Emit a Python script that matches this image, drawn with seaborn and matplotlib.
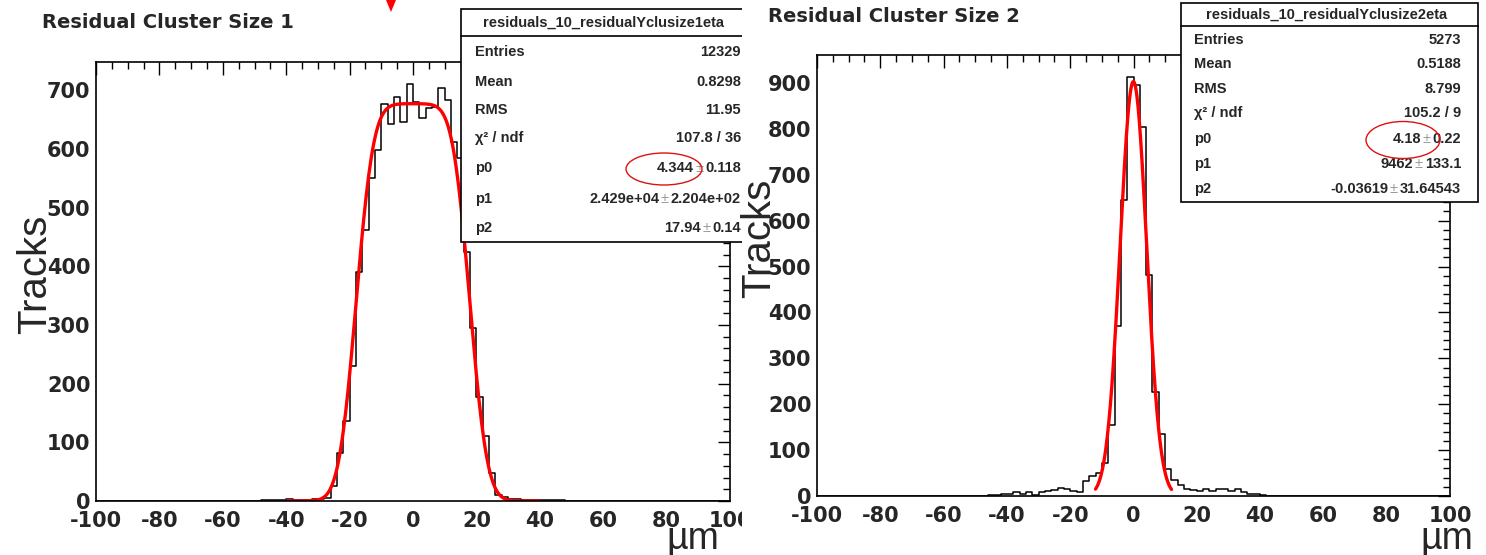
import math
import numpy as np
import pandas as pd
import matplotlib
matplotlib.use("Agg")
import matplotlib.pyplot as plt
import seaborn as sns
from matplotlib.patches import Rectangle, Ellipse, Polygon
from matplotlib.ticker import MultipleLocator

# ---------------------------------------------------------------- data
bin_width = 2
bin_range = (-100, 100)

# cluster size 1: residual histogram (bin centres, entries per 2 um bin)
size1_centers = [-47, -45, -43, -41, -39, -37, -35, -33, -31, -29, -27, -25, -23,
                 -21, -19, -17, -15, -13, -11, -9, -7, -5, -3, -1, 1, 3, 5, 7, 9,
                 11, 13, 15, 17, 19, 21, 23, 25, 27, 29, 31, 33, 35, 37, 39, 41,
                 43, 45, 47]
size1_counts = [1, 1, 2, 2, 3, 2, 1, 2, 3, 4, 5, 25, 82,
                136, 230, 390, 462, 550, 598, 677, 643, 688, 646, 711, 680, 653, 669, 672, 703,
                683, 612, 584, 425, 294, 178, 110, 48, 10, 7, 3, 3,
                2, 1, 2, 1, 1, 1, 1]

# cluster size 2: residual histogram
size2_centers = [-45, -43, -41, -39, -37, -35, -33, -31, -29, -27, -25, -23, -21,
                 -19, -17, -15, -13, -11, -9, -7, -5, -3, -1, 1, 3, 5, 7, 9, 11,
                 13, 15, 17, 19, 21, 23, 25, 27, 29, 31, 33, 35, 37, 39, 41, 43]
size2_counts = [2, 3, 5, 4, 9, 4, 9, 3, 9, 10, 13, 17, 15,
                11, 9, 33, 44, 50, 73, 155, 371, 644, 914, 896, 805, 481, 226, 136, 58,
                34, 24, 16, 14, 11, 16, 11, 16, 16, 11, 15, 8, 4, 4, 2, 1]

# fit results (box (x) gaussian for size 1, gaussian for size 2)
fit1_p0, fit1_p1, fit1_p2 = 4.344, 2.429e4, 17.94
fit1_range = (-40, 40)
fit2_p0, fit2_p1, fit2_p2 = 4.18, 9462.0, -0.03619
fit2_range = (-12, 12)

titles = ["Residual Cluster Size 1", "Residual Cluster Size 2"]
hist_names = ["residuals_10_residualYclusize1eta", "residuals_10_residualYclusize2eta"]
stat_labels = ["Entries", "Mean", "RMS", "\u03c7\u00b2 / ndf", "p0", "p1", "p2"]
# (value, error) pairs; error None for plain entries
stat_values1 = [("12329", None), ("0.8298", None), ("11.95", None), ("107.8 / 36", None),
                ("4.344", "0.118"), ("2.429e+04", "2.204e+02"), ("17.94", "0.14")]
stat_values2 = [("5273", None), ("0.5188", None), ("8.799", None), ("105.2 / 9", None),
                ("4.18", "0.22"), ("9462", "133.1"), ("-0.03619", "31.64543")]
y_label = "Tracks"
x_label = "\u00b5m"

# ---------------------------------------------------------------- style
sns.set_theme(style="white")
plt.rcParams['font.family'] = ['Liberation Sans', 'DejaVu Sans']
plt.rcParams['axes.unicode_minus'] = False

W, H = 1486, 555
fig = plt.figure(figsize=(W / 100, H / 100), dpi=100)
fig.patch.set_facecolor("white")

WIDE_BOLD = dict(family="DejaVu Sans", weight="bold")


def add_axes_px(x0, y0, x1, y1):
    return fig.add_axes([x0 / W, 1 - y1 / H, (x1 - x0) / W, (y1 - y0) / H])


erf = np.vectorize(math.erf)


def box_gauss(x, p0, p1, p2):
    s = math.sqrt(2) * p0
    return p1 / (4 * p2) * (erf((x + p2) / s) - erf((x - p2) / s))


def gauss(x, p0, p1, p2):
    return p1 / (math.sqrt(2 * math.pi) * p0) * np.exp(-0.5 * ((x - p2) / p0) ** 2)


def style_axes(ax, ymax):
    ax.set_xlim(-100, 100)
    ax.set_ylim(0, ymax)
    ax.xaxis.set_major_locator(MultipleLocator(20))
    ax.xaxis.set_minor_locator(MultipleLocator(5))
    ax.yaxis.set_major_locator(MultipleLocator(100))
    ax.yaxis.set_minor_locator(MultipleLocator(20))
    ax.tick_params(which="both", direction="in", top=True, right=True,
                   color="black", width=1.0)
    ax.tick_params(which="major", length=9, labelsize=15)
    ax.tick_params(axis="x", which="major", pad=7)
    ax.tick_params(axis="y", which="major", pad=4)
    ax.tick_params(which="minor", length=5)
    for lab in ax.get_xticklabels() + ax.get_yticklabels():
        lab.set_fontfamily(WIDE_BOLD["family"])
        lab.set_fontweight(WIDE_BOLD["weight"])
    for sp in ax.spines.values():
        sp.set_color("black")
        sp.set_linewidth(1.2)
    ax.set_xlabel("")
    ax.set_ylabel("")
    ax.set_facecolor("white")
    ax.grid(False)


panels = [
    dict(frame=(96, 62, 730, 501), ymax=748, centers=size1_centers, counts=size1_counts,
         fit=lambda x: box_gauss(x, fit1_p0, fit1_p1, fit1_p2), rng=fit1_range),
    dict(frame=(817, 55, 1450, 496), ymax=961, centers=size2_centers, counts=size2_counts,
         fit=lambda x: gauss(x, fit2_p0, fit2_p1, fit2_p2), rng=fit2_range),
]

for p in panels:
    ax = add_axes_px(*p["frame"])
    df = pd.DataFrame({"x": p["centers"], "n": p["counts"]})
    sns.histplot(data=df, x="x", weights="n", binwidth=bin_width, binrange=bin_range,
                 element="step", fill=False, color="black", linewidth=1.1, ax=ax)
    xf = np.linspace(p["rng"][0], p["rng"][1], 201)
    sns.lineplot(x=xf, y=p["fit"](xf), color="#ff0000", linewidth=2.4, ax=ax,
                 sort=False)
    style_axes(ax, p["ymax"])

# ---------------------------------------------------------------- overlay in pixel units
ov = fig.add_axes([0, 0, 1, 1], zorder=5)
ov.set_xlim(0, W)
ov.set_ylim(H, 0)
ov.axis("off")

TXT = dict(fontsize=10.5, fontweight="bold", va="center", zorder=12)


def stat_box(x0, y0, x1, y1, head_y, name, name_x, rows_y, values, lab_x, val_x):
    ov.add_patch(Rectangle((x0, y0), x1 - x0, y1 - y0, facecolor="white",
                           edgecolor="black", linewidth=1.2, zorder=10))
    ov.plot([x0, x1], [head_y, head_y], color="black", linewidth=1.2, zorder=11)
    ov.text(name_x, (y0 + head_y) / 2, name, ha="center", **TXT)
    for lab, (val, err), yy in zip(stat_labels, values, rows_y):
        ov.text(lab_x, yy, lab, ha="left", **TXT)
        if err is None:
            ov.text(val_x, yy, val, ha="right", **TXT)
            continue
        t_err = ov.text(val_x, yy, err, ha="right", **TXT)
        t_pm = ov.annotate("\u00b1", xy=(0, 0.5), xycoords=t_err, xytext=(-1.5, 0),
                           textcoords="offset points", ha="right", va="center",
                           fontsize=10.5, color="#9a9a9a", zorder=12)
        ov.annotate(val, xy=(0, 0.5), xycoords=t_pm, xytext=(-1.0, 0),
                    textcoords="offset points", ha="right", va="center",
                    fontsize=10.5, fontweight="bold", zorder=12)


stat_box(461, 9, 752, 242, 36, hist_names[0], 604,
         [52, 82, 110, 138, 168, 199, 228], stat_values1, 475, 741)
stat_box(1181, 3, 1478, 202, 26, hist_names[1], 1327,
         [40, 64, 89, 113, 139, 164, 189], stat_values2, 1194, 1461)

# the left canvas ends here
ov.add_patch(Rectangle((742, 0), 17, H, facecolor="white", edgecolor="none", zorder=20))

# titles and axis captions
ov.text(42, 22, titles[0], fontsize=14, va="center", ha="left", zorder=22, **WIDE_BOLD)
ov.text(768, 17, titles[1], fontsize=14, va="center", ha="left", zorder=22, **WIDE_BOLD)
ov.text(35, 274, y_label, fontsize=29, rotation=90, va="center", ha="center", zorder=22)
ov.text(759, 238, y_label, fontsize=29, rotation=90, va="center", ha="center", zorder=22)
ov.text(693, 549, x_label, fontsize=27, va="baseline", ha="center", zorder=22)
ov.text(1447, 549, x_label, fontsize=27, va="baseline", ha="center", zorder=22)

# highlights
for cx, cy, w, h in [(664, 169, 76, 32), (1403, 140, 74, 37)]:
    ov.add_patch(Ellipse((cx, cy), w, h, facecolor="none", edgecolor="#e01010",
                         linewidth=1.0, zorder=25))
ov.add_patch(Polygon([(386, 0), (396, 0), (391, 12)], closed=True,
                     facecolor="#ff0000", edgecolor="none", zorder=25))

fig.savefig("out.png", dpi=100, facecolor="white")
